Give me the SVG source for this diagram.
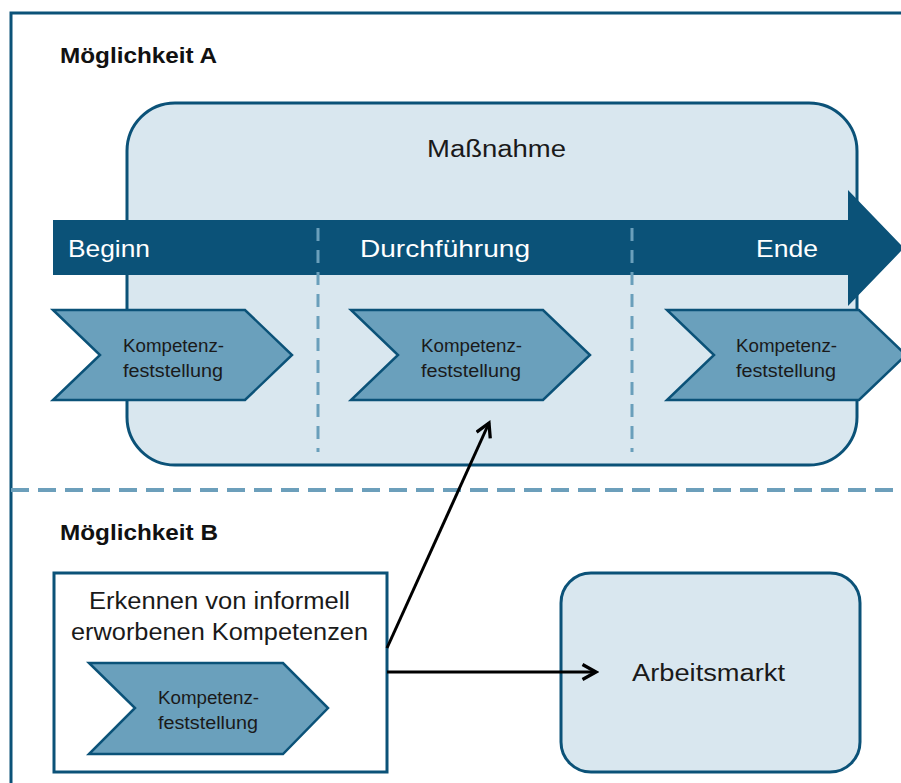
<svg xmlns="http://www.w3.org/2000/svg" width="901" height="783" viewBox="0 0 901 783">
<style>
.frame{fill:none;stroke:#0b5278;stroke-width:3}
.panel{fill:#d9e7ef;stroke:#0b5278;stroke-width:3}
.chev{fill:#6aa0bc;stroke:#0b5278;stroke-width:2.5;stroke-linejoin:miter}
.vdash{stroke:#6a9fbb;stroke-width:3;stroke-dasharray:13 9;fill:none}
.hdash{stroke:#6c9fbb;stroke-width:4;stroke-dasharray:18 9;fill:none}
.head{font-family:"Liberation Sans",Arial,sans-serif;font-weight:bold;font-size:22px;fill:#111}
.lbl{font-family:"Liberation Sans",Arial,sans-serif;font-size:23px;fill:#1a1a1a}
.ban{font-family:"Liberation Sans",Arial,sans-serif;font-size:24px;fill:#ffffff}
.chevt{font-family:"Liberation Sans",Arial,sans-serif;font-size:18px;fill:#1a1a1a}
.conn{stroke:#000;stroke-width:3;fill:none}
</style>
<defs>
<marker id="arr" viewBox="0 0 12 12" refX="10" refY="6" markerWidth="6" markerHeight="6" markerUnits="strokeWidth" orient="auto">
<path d="M1,1 L10,6 L1,11" fill="none" stroke="#000" stroke-width="2.2"/>
</marker>
</defs>
<rect width="901" height="783" fill="#ffffff"/>
<g id="frame">
<path class="frame" d="M11,783 L11,13 L901,13"/>
</g>
<g id="moeglichkeit-a">
<text class="head" x="60" y="63" textLength="157" lengthAdjust="spacingAndGlyphs">Möglichkeit A</text>
</g>
<g id="massnahme">
<rect class="panel" x="127" y="103" width="730" height="362" rx="48" ry="48"/>
<text class="lbl" x="427" y="157" textLength="139" lengthAdjust="spacingAndGlyphs">Maßnahme</text>
</g>
<g id="zeitachse">
<polygon points="53,220 848,220 848,190 904,248 848,306 848,275 53,275" fill="#0b5278"/>
<text class="ban" x="68" y="257" textLength="82" lengthAdjust="spacingAndGlyphs">Beginn</text>
<text class="ban" x="360" y="257" textLength="170" lengthAdjust="spacingAndGlyphs">Durchführung</text>
<text class="ban" x="756" y="257" textLength="62" lengthAdjust="spacingAndGlyphs">Ende</text>
</g>
<g id="phasen-trenner">
<line class="vdash" x1="318" y1="228" x2="318" y2="452"/>
<line class="vdash" x1="632" y1="228" x2="632" y2="452"/>
</g>
<g id="kf-beginn">
<polygon class="chev" points="53,310 245,310 292,355 245,400 53,400 100,355"/>
<text class="chevt" x="123" y="352" textLength="101" lengthAdjust="spacingAndGlyphs">Kompetenz-</text>
<text class="chevt" x="123" y="377" textLength="100" lengthAdjust="spacingAndGlyphs">feststellung</text>
</g>
<g id="kf-durchfuehrung">
<polygon class="chev" points="351,310 543,310 590,355 543,400 351,400 398,355"/>
<text class="chevt" x="421" y="352" textLength="101" lengthAdjust="spacingAndGlyphs">Kompetenz-</text>
<text class="chevt" x="421" y="377" textLength="100" lengthAdjust="spacingAndGlyphs">feststellung</text>
</g>
<g id="kf-ende">
<polygon class="chev" points="667,310 859,310 906,355 859,400 667,400 714,355"/>
<text class="chevt" x="736" y="352" textLength="101" lengthAdjust="spacingAndGlyphs">Kompetenz-</text>
<text class="chevt" x="736" y="377" textLength="100" lengthAdjust="spacingAndGlyphs">feststellung</text>
</g>
<g id="trenner">
<line class="hdash" x1="11" y1="490" x2="901" y2="490"/>
</g>
<g id="moeglichkeit-b">
<text class="head" x="60" y="540" textLength="158" lengthAdjust="spacingAndGlyphs">Möglichkeit B</text>
</g>
<g id="erkennen">
<rect x="54" y="573" width="333" height="199" fill="#ffffff" stroke="#0b5278" stroke-width="3"/>
<text class="lbl" x="89" y="609" textLength="261" lengthAdjust="spacingAndGlyphs">Erkennen von informell</text>
<text class="lbl" x="71" y="640" textLength="297" lengthAdjust="spacingAndGlyphs">erworbenen Kompetenzen</text>
<polygon class="chev" points="89,663 283,663 328,708 283,754 89,754 135,708"/>
<text class="chevt" x="158" y="704" textLength="101" lengthAdjust="spacingAndGlyphs">Kompetenz-</text>
<text class="chevt" x="158" y="729" textLength="100" lengthAdjust="spacingAndGlyphs">feststellung</text>
</g>
<g id="arbeitsmarkt">
<rect class="panel" x="561" y="573" width="299" height="199" rx="30" ry="30"/>
<text class="lbl" x="632" y="681" textLength="153" lengthAdjust="spacingAndGlyphs">Arbeitsmarkt</text>
</g>
<g id="connectors">
<line class="conn" x1="387" y1="648" x2="489" y2="423" marker-end="url(#arr)"/>
<line class="conn" x1="387" y1="672" x2="596" y2="672" marker-end="url(#arr)"/>
</g>
</svg>
